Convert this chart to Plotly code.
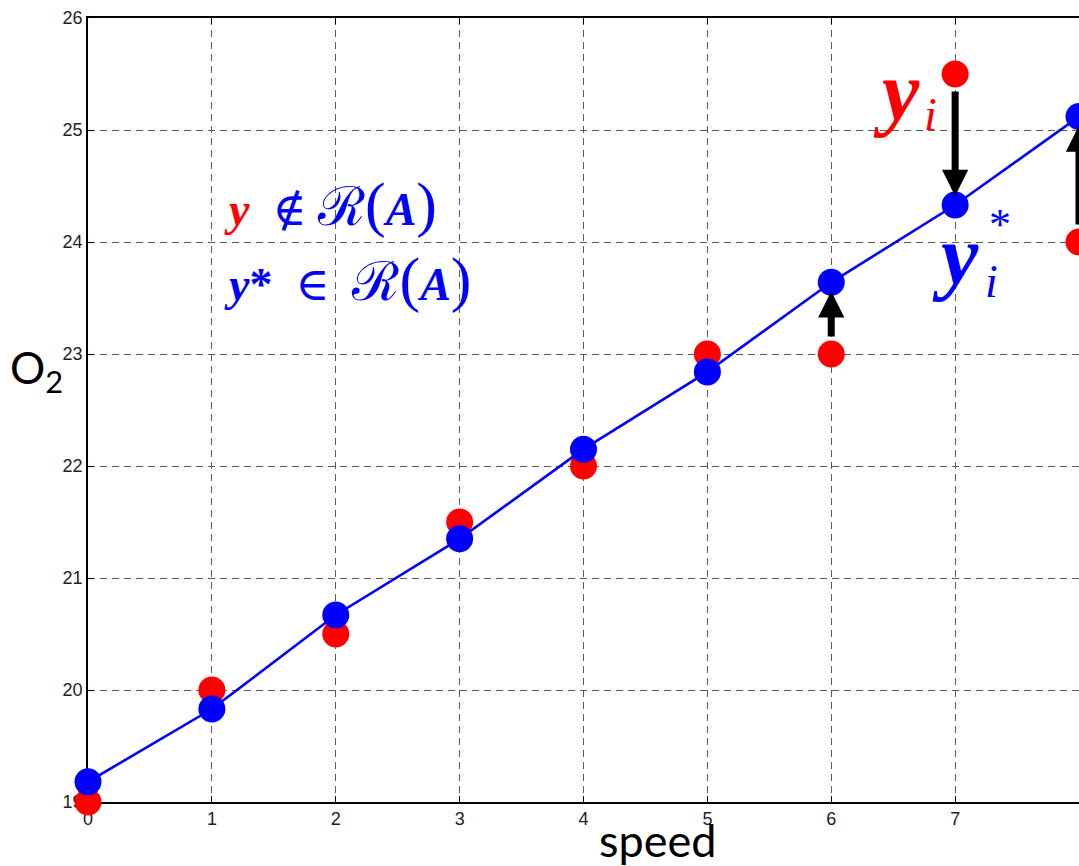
import plotly.graph_objects as go

# speed settings and measured / fitted O2 values
speed = [0, 1, 2, 3, 4, 5, 6, 7, 8]
o2_measured = [19.0, 20.0, 20.5, 21.5, 22.0, 23.0, 23.0, 25.5, 24.0]
o2_fitted = [19.18, 19.83, 20.67, 21.35, 22.15, 22.84, 23.64, 24.33, 25.12]
arrow_speeds = [6, 7, 8]

x_ticks = [0, 1, 2, 3, 4, 5, 6, 7, 8]
y_ticks = [19, 20, 21, 22, 23, 24, 25, 26]

W, H = 1079, 866
M_L, M_R, M_T, M_B = 88, 0, 18, 64


def px(x):
    return (x - M_L) / (W - M_L - M_R)


def py(y):
    return (H - M_B - y) / (H - M_T - M_B)


RED = "#ff0000"
BLUE = "#0000ff"
SERIF = "Liberation Serif, DejaVu Serif, serif"

fig = go.Figure()

fig.add_trace(go.Scatter(
    x=speed, y=o2_measured, mode="markers",
    marker=dict(size=27, color=RED, line=dict(width=0)),
    cliponaxis=False, showlegend=False,
))
fig.add_trace(go.Scatter(
    x=speed, y=o2_fitted, mode="lines+markers",
    line=dict(color=BLUE, width=2.6),
    marker=dict(size=27, color=BLUE, line=dict(width=0)),
    cliponaxis=False, showlegend=False,
))

annotations = []
# residual arrows: from the measured point to the fitted point
for s in arrow_speeds:
    i = speed.index(s)
    annotations.append(dict(
        x=s, y=o2_fitted[i], ax=s, ay=o2_measured[i],
        xref="x", yref="y", axref="x", ayref="y",
        text="", showarrow=True, arrowhead=2, arrowsize=0.75,
        arrowwidth=7, arrowcolor="black", standoff=9, startstandoff=16,
    ))

BIG = "<span style='font-size:62px'>"
SCR = "<span style='font-size:54px'>"
range_A = (SCR + "ℛ</span>" + BIG + "(</span><b><i>A</i></b>" + BIG + ")</span>")

# range-space statements
annotations.append(dict(
    x=px(222), y=py(205), xref="paper", yref="paper",
    xanchor="left", yanchor="middle", showarrow=False,
    text=("<b><i><span style='color:#ff0000'>y</span></i></b>  ∉ " + range_A),
    font=dict(family=SERIF, size=46, color=BLUE),
))
annotations.append(dict(
    x=px(222), y=py(280), xref="paper", yref="paper",
    xanchor="left", yanchor="middle", showarrow=False,
    text="<b><i>y</i>*</b>  ∈  " + range_A,
    font=dict(family=SERIF, size=46, color=BLUE),
))

# y_i and y_i* labels
annotations += [
    dict(x=px(896), y=py(92), xref="paper", yref="paper", showarrow=False,
         xanchor="center", yanchor="middle", text="<b><i>y</i></b>",
         font=dict(family=SERIF, size=84, color=RED)),
    dict(x=px(930), y=py(114), xref="paper", yref="paper", showarrow=False,
         xanchor="center", yanchor="middle", text="<i>i</i>",
         font=dict(family=SERIF, size=46, color=RED)),
    dict(x=px(955), y=py(255), xref="paper", yref="paper", showarrow=False,
         xanchor="center", yanchor="middle", text="<b><i>y</i></b>",
         font=dict(family=SERIF, size=84, color=BLUE)),
    dict(x=px(991), y=py(281), xref="paper", yref="paper", showarrow=False,
         xanchor="center", yanchor="middle", text="<i>i</i>",
         font=dict(family=SERIF, size=46, color=BLUE)),
    dict(x=px(1000), y=py(224), xref="paper", yref="paper", showarrow=False,
         xanchor="center", yanchor="middle", text="*",
         font=dict(family=SERIF, size=44, color=BLUE)),
]

# axis titles
annotations += [
    dict(x=px(36), y=py(370), xref="paper", yref="paper", showarrow=False,
         xanchor="center", yanchor="middle", text="O<sub>2</sub>",
         font=dict(family="Lato, Open Sans, sans-serif", size=44, color="black")),
    dict(x=px(657), y=py(840), xref="paper", yref="paper", showarrow=False,
         xanchor="center", yanchor="middle", text="speed",
         font=dict(family="Lato, Open Sans, sans-serif", size=45, color="black")),
]

grid = dict(showgrid=True, gridcolor="#5a5a5a", griddash="7px,5px", gridwidth=1)

fig.update_layout(
    width=W, height=H,
    margin=dict(l=M_L, r=M_R, t=M_T, b=M_B),
    paper_bgcolor="white", plot_bgcolor="white",
    annotations=annotations,
    font=dict(family="Liberation Sans, Arial, sans-serif", size=18, color="#222222"),
    xaxis=dict(
        range=[0, 8], tickvals=x_ticks, ticktext=[str(v) for v in x_ticks],
        showline=True, linecolor="black", linewidth=1.5, mirror="ticks",
        ticks="inside", ticklen=6, tickcolor="black",
        zeroline=False, layer="below traces", tickfont=dict(size=18),
        **grid,
    ),
    yaxis=dict(
        range=[19, 26], tickvals=y_ticks, ticktext=[str(v) for v in y_ticks],
        showline=True, linecolor="black", linewidth=1.5, mirror=False,
        ticks="inside", ticklen=6, tickcolor="black",
        zeroline=False, layer="below traces", tickfont=dict(size=18),
        **grid,
    ),
)

fig.write_html("out.html")
